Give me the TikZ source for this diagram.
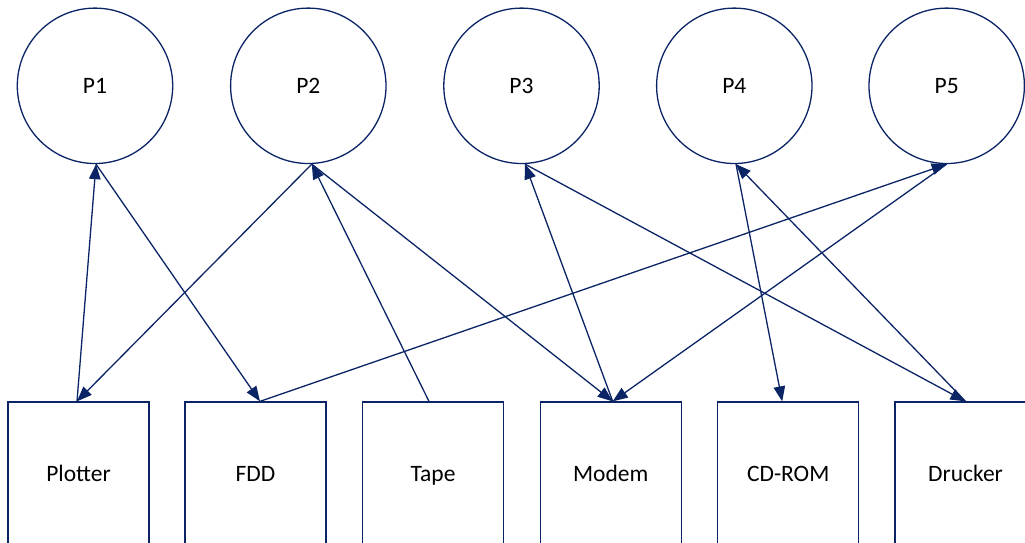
\documentclass[tikz,border=0pt]{standalone}
\usepackage{fontspec}
\setmainfont{Carlito}
\usetikzlibrary{arrows.meta}
\definecolor{navy}{HTML}{0A2466}
\begin{document}
\begin{tikzpicture}[x=1pt,y=-1pt,
  proc/.style={circle,draw=navy,line width=1.3pt,minimum size=155.4pt,inner sep=0pt,font=\fontsize{23.5}{28}\selectfont},
  dev/.style={rectangle,draw=navy,line width=1.3pt,minimum width=141pt,minimum height=150pt,inner sep=0pt,text height=9pt,text depth=0pt,font=\fontsize{23.5}{28}\selectfont},
  conn/.style={draw=navy,line width=1.3pt,-{Triangle[length=15pt,width=11.5pt]}}]
\useasboundingbox (0,0) rectangle (1025,542);
\clip (0,0) rectangle (1025,542);
\node[proc] (P1) at (95,85.8) {P1};
\node[proc] (P2) at (308.3,85.8) {P2};
\node[proc] (P3) at (521.5,85.8) {P3};
\node[proc] (P4) at (734.3,85.8) {P4};
\node[proc] (P5) at (946.7,85.8) {P5};
\node[dev] (plot) at (78.5,477) {Plotter};
\node[dev] (fdd) at (255.5,477) {FDD};
\node[dev] (tape) at (433,477) {Tape};
\node[dev] (modem) at (610.7,477) {Modem};
\node[dev] (cd) at (788.2,477) {CD-ROM};
\node[dev] (dr) at (965.5,477) {Drucker};
\draw[conn] ([xshift=-1.5pt]plot.north) -- ([xshift=1pt]P1.south);
\draw[conn] ([xshift=1pt]P1.south) -- ([xshift=4.5pt]fdd.north);
\draw[conn] ([xshift=3.5pt]P2.south) -- ([xshift=-1.5pt]plot.north);
\draw[conn] ([xshift=-4pt]tape.north) -- ([xshift=3.5pt]P2.south);
\draw[conn] ([xshift=3.5pt]P2.south) -- ([xshift=2pt]modem.north);
\draw[conn] ([xshift=4.5pt]fdd.north) -- (P5.south);
\draw[conn] ([xshift=2pt]modem.north) -- ([xshift=3.5pt]P3.south);
\draw[conn] ([xshift=3.5pt]P3.south) -- (dr.north);
\draw[conn] ([xshift=1.7pt]P4.south) -- ([xshift=-6pt]cd.north);
\draw[conn] (dr.north) -- ([xshift=1.7pt]P4.south);
\draw[conn] (P5.south) -- ([xshift=2pt]modem.north);
\end{tikzpicture}
\end{document}
